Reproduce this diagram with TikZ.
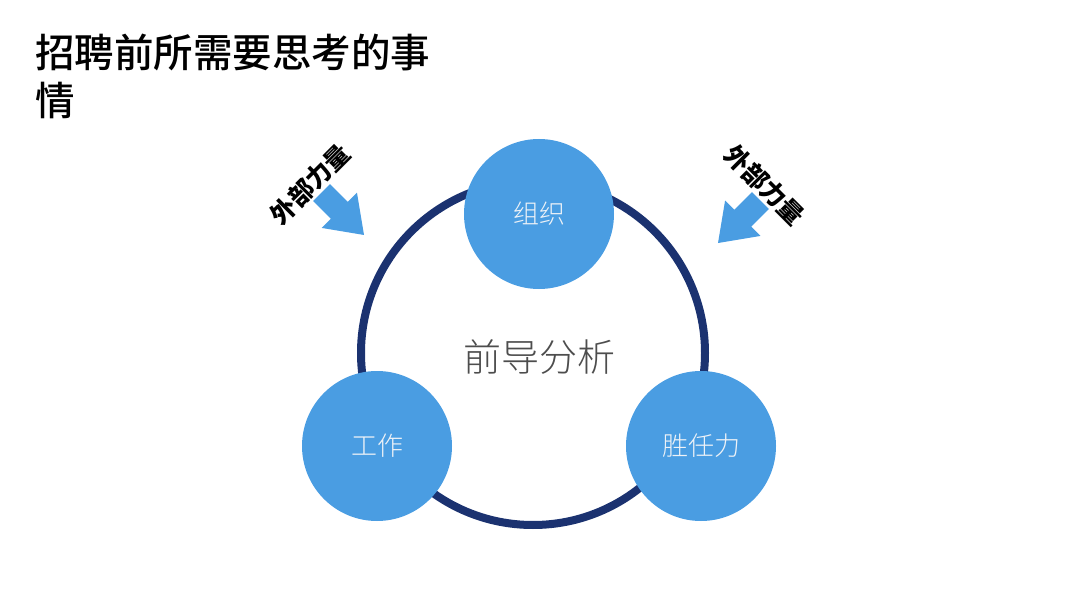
\documentclass[tikz,border=0pt]{standalone}
\usepackage{fontspec}
\usepackage{xcolor}
\newfontfamily\cjk{Noto Sans CJK SC}
\newfontfamily\cjkmid{Noto Sans CJK SC}[UprightFont={* Medium}]
\newfontfamily\cjkthin{Noto Sans CJK SC}[UprightFont={* Light}]
\definecolor{ringnavy}{HTML}{1B3270}
\definecolor{ballblue}{HTML}{4A9DE2}
\definecolor{balltext}{HTML}{EEF2F7}
\definecolor{hubgray}{HTML}{4D4D4D}

\begin{document}
\begin{tikzpicture}[x=1pt,y=-1pt,
    ball/.style={circle,fill=ballblue,minimum size=150pt,inner sep=0pt,
      text=balltext,font=\cjkthin\fontsize{26}{26}\selectfont},
    force/.style={inner sep=0pt,font=\cjk\bfseries\fontsize{25}{25}\selectfont}]
    \useasboundingbox (0,0) rectangle (1080,607);
    % title
    \node[anchor=west,align=left,inner sep=0pt,font=\cjkmid\fontsize{39.5}{48}\selectfont]
        (title) at (35,76) {招聘前所需要思考的事\\情};
    % ring and hub
    \node[circle,draw=ringnavy,line width=8pt,minimum size=344pt,inner sep=0pt] (ring) at (533,353) {};
    \node[text=hubgray,font=\cjkthin\fontsize{38}{38}\selectfont] (hub) at (539,357) {前导分析};
    % three balls
    \node[ball] (org) at (539,214) {组织};
    \node[ball] (job) at (377,446) {工作};
    \node[ball] (comp) at (701,446) {胜任力};
    % outside forces
    \foreach \tx/\ty/\ang in {364/235/-45,718/243/-135}{
        \fill[ballblue,shift={(\tx,\ty)},rotate=\ang]
            (0,0) -- (-35,25) -- (-35,12) -- (-60,12) -- (-60,-12) -- (-35,-12) -- (-35,-25) -- cycle;
    }
    \node[force,rotate=45] (forceL) at (310,184) {外部力量};
    \node[force,rotate=-45] (forceR) at (765,185) {外部力量};
\end{tikzpicture}
\end{document}
